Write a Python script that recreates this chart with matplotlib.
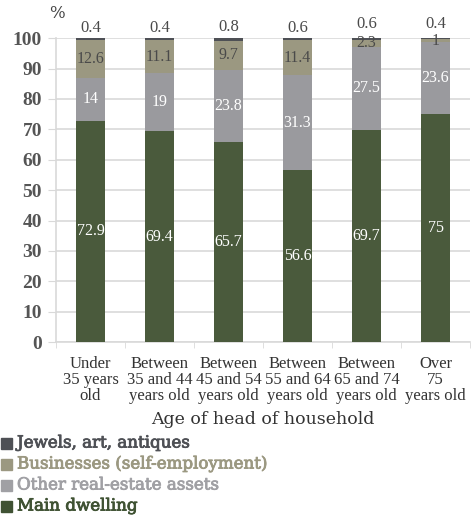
import matplotlib
matplotlib.use("Agg")
import matplotlib.pyplot as plt
import matplotlib.patheffects as pe
import numpy as np

categories = ["Under\n35 years\nold", "Between\n35 and 44\nyears old", "Between\n45 and 54\nyears old",
              "Between\n55 and 64\nyears old", "Between\n65 and 74\nyears old", "Over\n75\nyears old"]
main_dwelling = [72.9, 69.4, 65.7, 56.6, 69.7, 75]
other_real_estate = [14, 19, 23.8, 31.3, 27.5, 23.6]
businesses = [12.6, 11.1, 9.7, 11.4, 2.3, 1]
jewels = [0.4, 0.4, 0.8, 0.6, 0.6, 0.4]

series = [
    ("Main dwelling", main_dwelling, "#4a5a3c", "white"),
    ("Other real-estate assets", other_real_estate, "#9a9a9e", "white"),
    ("Businesses (self-employment)", businesses, "#9b9881", "#4a4a4a"),
    ("Jewels, art, antiques", jewels, "#4e5055", "#4a4a4a"),
]
legend_colors = {"Main dwelling": "#3f5233", "Other real-estate assets": "#a0a0a4",
                 "Businesses (self-employment)": "#9b9881", "Jewels, art, antiques": "#4e5055"}

plt.rcParams["font.family"] = ["Liberation Serif", "DejaVu Serif"]
WIDE = ["DejaVu Serif"]

fig = plt.figure(figsize=(4.71, 5.16), dpi=100)
ax = fig.add_axes([0.119, 0.337, 0.879, 0.589])

x = np.arange(len(categories))
width = 0.42
bottom = np.zeros(len(categories))
for name, vals, color, tcolor in series:
    vals = np.array(vals, dtype=float)
    ax.bar(x, vals, width, bottom=bottom, color=color, label=name, zorder=3)
    if name == "Jewels, art, antiques":
        # lift the top label a bit where the segment below is thin
        for xi, bi, v, bv in zip(x, bottom + vals, vals, businesses):
            off = 4.5 if bv < 3 else 2
            ax.annotate(f"{v:g}", (xi, bi), xytext=(0, off), textcoords="offset points",
                        ha="center", va="bottom", fontsize=12, color="#4a4a4a")
    else:
        for xi, bi, v in zip(x, bottom, vals):
            ax.text(xi, bi + v / 2, f"{v:g}", ha="center", va="center",
                    fontsize=11.5, color=tcolor, zorder=4)
    bottom += vals

ax.set_ylim(0, 100)
ax.set_xlim(-0.5, len(categories) - 0.5)
ax.set_yticks(np.arange(0, 101, 10))
ax.yaxis.grid(True, color="#d9d9d9", linewidth=1.2, zorder=0)
ax.tick_params(axis="y", length=6, color="#d9d9d9", pad=4)
ax.set_yticklabels([str(v) for v in range(0, 101, 10)], fontsize=14,
                   color="#555555", fontweight="bold")
ax.set_xticks(x)
ax.set_xticklabels(categories, fontsize=12, color="#333333", linespacing=1.0)
ax.set_xticks(np.arange(-0.5, len(categories), 1), minor=True)
ax.tick_params(axis="x", which="major", length=0, pad=10)
ax.tick_params(axis="x", which="minor", length=4, color="#d9d9d9")
for s in ["top", "right"]:
    ax.spines[s].set_visible(False)
for s in ["left", "bottom"]:
    ax.spines[s].set_color("#d9d9d9")
    ax.spines[s].set_linewidth(1.2)
ax.set_xlabel("Age of head of household", family=WIDE, fontsize=12.5, color="#333333",
              labelpad=5)

fig.text(56.5 / 471, 1 - 13 / 516, "%", family=WIDE, fontsize=12, color="#444444",
         ha="center", va="center")

# legend, top entry first
leg_items = ["Jewels, art, antiques", "Businesses (self-employment)",
             "Other real-estate assets", "Main dwelling"]
for i, name in enumerate(leg_items):
    yc = 1 - (443 + i * 21) / 516
    fig.patches.append(plt.Rectangle((1 / 471, yc - 5.5 / 516), 11 / 471, 11 / 516,
                                     transform=fig.transFigure, color=legend_colors[name]))
    fig.text(17 / 471, yc, name, family=WIDE, fontsize=12,
             color=legend_colors[name], ha="left", va="center",
             path_effects=[pe.withStroke(linewidth=0.6, foreground=legend_colors[name])])

fig.savefig("out.png", dpi=100)
